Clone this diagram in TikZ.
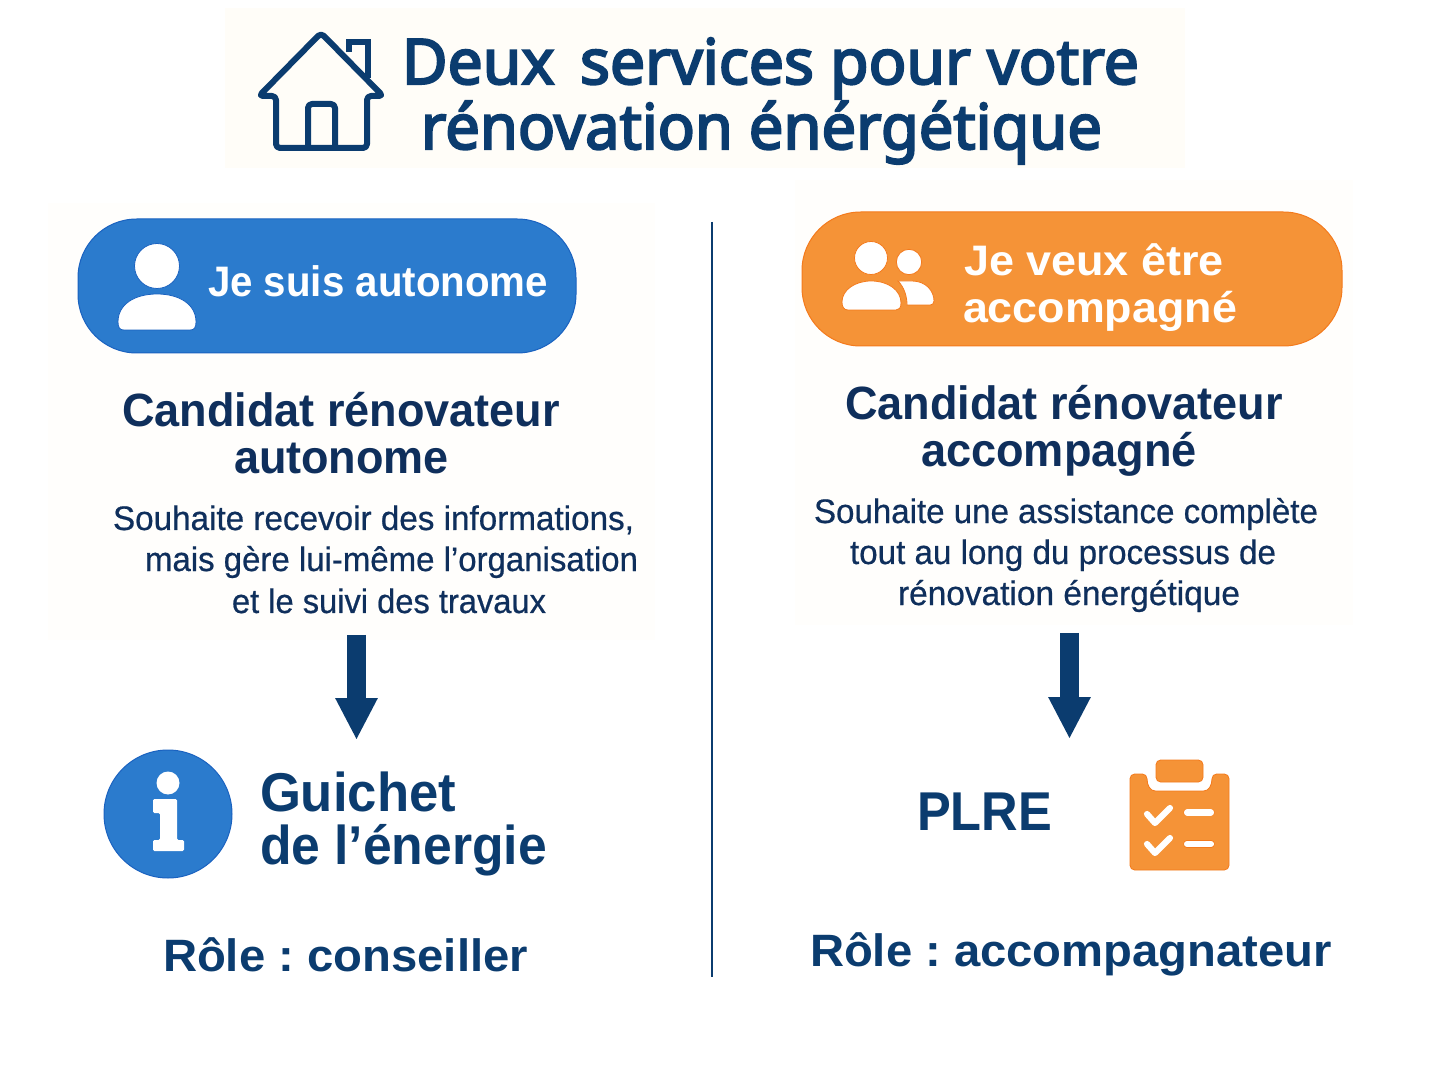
\documentclass[tikz,border=0pt]{standalone}
\usepackage{graphicx}
\usepackage{fontspec}
\setmainfont{Liberation Sans}
\newfontfamily\titlefont[FakeBold=3.4]{Noto Sans}
\newfontfamily\descfont[FakeBold=0.6]{Liberation Sans}
\usetikzlibrary{arrows.meta}
\definecolor{navy}{HTML}{0B3C6F}
\definecolor{deepnavy}{HTML}{0F2F5C}
\definecolor{bluefill}{HTML}{2B7BCD}
\definecolor{blueedge}{HTML}{1A62C0}
\definecolor{orfill}{HTML}{F59337}
\definecolor{oredge}{HTML}{F47A1C}
\definecolor{cream}{HTML}{FFFDF8}
\definecolor{creamb}{HTML}{FFFEFC}
\newcommand{\tline}[6]{%
  \pgfmathsetlengthmacro\tlw{(#3-#2)*0.75pt}%
  \node[txtline,#5] (#1) at (#2,#4) {\frenchspacing\resizebox{\tlw}{\height}{#6}};}
\tikzset{
  txtline/.style={inner sep=0pt,outer sep=0pt,anchor=base west},
  titletxt/.style={text=navy,font=\titlefont\fontsize{47}{56}\selectfont},
  pilltxt/.style={text=white,font=\bfseries\fontsize{32}{38}\selectfont},
  headtxt/.style={text=deepnavy,font=\bfseries\fontsize{35}{41}\selectfont},
  desctxt/.style={text=deepnavy,font=\descfont\fontsize{25.5}{30}\selectfont},
  servtxt/.style={text=navy,font=\bfseries\fontsize{41}{48}\selectfont},
  roletxt/.style={text=navy,font=\bfseries\fontsize{34}{40}\selectfont},
  housestroke/.style={draw=navy,line width=4.5pt,line join=round,rounded corners=3pt},
  bluepill/.style={fill=bluefill,draw=blueedge,line width=0.75pt},
  orangepill/.style={fill=orfill,draw=oredge,line width=0.75pt},
  iconblue/.style={fill=white,draw=blueedge,line width=0.6pt},
  iconorange/.style={fill=white,draw=oredge,line width=0.6pt},
  downarrow/.style={draw=navy,line width=14.25pt,-{Triangle[length=31.5pt,width=29.6pt]}},
  checkmark/.style={draw=white,line width=4.6pt,line cap=round,line join=round},
  listbar/.style={draw=oredge,double=white,double distance=4.6pt,line width=0.5pt,line cap=round},
}
\begin{document}
\begin{tikzpicture}[x=0.75pt,y=-0.75pt]
\useasboundingbox (0,0) rectangle (1440,1080);
\fill[white] (0,0) rectangle (1440,1080);
% faint paper patches
\fill[cream] (225,8) rectangle (1185,168);
\fill[creamb] (48,203) rectangle (655,640);
\fill[creamb] (795,180) rectangle (1353,625);

% house
\draw[housestroke] (321,33) -- (383,96) -- (367,96) -- (367,148) -- (276,148) -- (276,96) -- (259,96) -- cycle;
\draw[draw=navy,line width=4.5pt,line join=miter] (349,52) -- (349,42) -- (368,42) -- (368,78);
\draw[housestroke] (308,148) -- (308,104) -- (335,104) -- (335,148);

\tline{title1}{402}{1139}{84}{titletxt}{Deux\hspace{0.15em} services pour votre}
\tline{title2}{421}{1102}{149}{titletxt}{rénovation énérgétique}

% left column
\draw[bluepill,rounded corners=44pt] (78,219) rectangle (576,353);
\node[circle,iconblue,minimum size=33.75pt,inner sep=0pt] (headL) at (157,266) {};
\draw[iconblue] (118,322) .. controls (118,304) and (135,294) .. (157,294) .. controls (179,294) and (196,304) .. (196,322) .. controls (196,328) and (194,330) .. (190,330) -- (124,330) .. controls (120,330) and (118,328) .. (118,322) -- cycle;
\tline{pillL}{208}{548}{297}{pilltxt}{Je suis autonome}
\tline{headL1}{122}{560}{427}{headtxt}{Candidat rénovateur}
\tline{headL2}{234}{449}{474}{headtxt}{autonome}
\tline{descL1}{113}{634}{530}{desctxt}{Souhaite recevoir des informations,}
\tline{descL2}{145}{638}{571}{desctxt}{mais gère lui-même l’organisation}
\tline{descL3}{232}{546}{613}{desctxt}{et le suivi des travaux}
\coordinate (arrLa) at (356.5,635);
\coordinate (arrLb) at (356.5,740);
\draw[downarrow] (arrLa) -- (arrLb);
% info icon
\node[circle,fill=bluefill,draw=blueedge,line width=0.75pt,minimum size=96pt,inner sep=0pt] (infoC) at (168,814) {};
\node[circle,fill=white,minimum size=17.25pt,inner sep=0pt] (infoD) at (168,783) {};
\fill[white,rounded corners=1pt] (153,799) -- (177,799) -- (177,840) -- (184,840) -- (184,851) -- (153,851) -- (153,840) -- (160,840) -- (160,813) -- (153,813) -- cycle;
\tline{servL1}{260}{456}{811}{servtxt}{Guichet}
\tline{servL2}{260}{547}{864}{servtxt}{de l’énergie}
\tline{roleL}{163}{528}{971}{roletxt}{Rôle : conseiller}

% divider
\coordinate (divA) at (712,222);
\coordinate (divB) at (712,977);
\draw[navy,line width=1.6pt] (divA) -- (divB);

% right column
\draw[orangepill,rounded corners=44pt] (802,212) rectangle (1342,346);
\node[circle,iconorange,minimum size=24.75pt,inner sep=0pt] (headR1) at (871,258) {};
\node[circle,iconorange,minimum size=19pt,inner sep=0pt] (headR2) at (909,262) {};
\draw[iconorange] (898,281) -- (912,281) .. controls (926,281) and (934,291) .. (934,301) .. controls (934,304) and (932,305) .. (930,305) -- (907,305) .. controls (907,296) and (904,287) .. (898,281) -- cycle;
\draw[iconorange] (842,302) .. controls (842,290) and (855,281) .. (871,281) .. controls (888,281) and (901,290) .. (901,303) .. controls (901,308) and (899,310) .. (896,310) -- (848,310) .. controls (844,310) and (842,307) .. (842,302) -- cycle;
\tline{pillR1}{964}{1224}{276}{pilltxt}{Je veux être}
\tline{pillR2}{963}{1237}{323}{pilltxt}{accompagné}
\tline{headR1t}{845}{1283}{420}{headtxt}{Candidat rénovateur}
\tline{headR2t}{921}{1197}{467}{headtxt}{accompagné}
\tline{descR1}{814}{1318}{523}{desctxt}{Souhaite une assistance complète}
\tline{descR2}{850}{1276}{564}{desctxt}{tout au long du processus de}
\tline{descR3}{898}{1240}{605}{desctxt}{rénovation énergétique}
\coordinate (arrRa) at (1069.5,633);
\coordinate (arrRb) at (1069.5,739);
\draw[downarrow] (arrRa) -- (arrRb);
\tline{servR}{917}{1052}{830}{servtxt}{PLRE}
% clipboard
\fill[orfill,draw=oredge,line width=0.6pt,rounded corners=3.5pt] (1130,774) -- (1147,774) .. controls (1147,785) and (1150,791) .. (1160,791) -- (1199,791) .. controls (1209,791) and (1212,785) .. (1212,774) -- (1229,774) -- (1229,870) -- (1130,870) -- cycle;
\fill[orfill,draw=oredge,line width=0.6pt,rounded corners=3.5pt] (1156,760) rectangle (1203,782);
\draw[checkmark] (1147,814) -- (1155,823) -- (1170,808);
\draw[checkmark] (1147,844) -- (1155,853) -- (1170,838);
\draw[listbar] (1187,812.5) -- (1211,812.5);
\draw[listbar] (1187,844) -- (1211,844);
\tline{roleR}{810}{1332}{966}{roletxt}{Rôle : accompagnateur}
\end{tikzpicture}
\end{document}
